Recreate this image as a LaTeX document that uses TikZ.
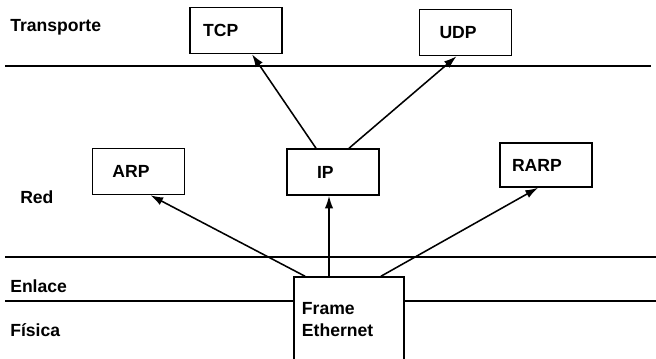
\documentclass[tikz,border=0pt]{standalone}
\usepackage{fontspec}
\setmainfont{Liberation Sans}
\usetikzlibrary{arrows.meta}

\tikzset{
  caja/.style={draw, line width=1.1pt, minimum height=1.15cm, inner xsep=#1,
    text width=2.3cm-2*#1, align=left},
  caja/.default=0.35cm,
  capa/.style={anchor=west, inner sep=0pt},
  flecha/.style={line width=1.1pt, -{Latex[length=9pt,width=6pt]}},
  nivel/.style={line width=1.1pt}
}

\begin{document}
\begin{tikzpicture}[x=0.025cm, y=-0.025cm, font=\fontsize{12.5}{15}\selectfont\bfseries]
        \clip (0,0) rectangle (656,358);

        % niveles
        \node[capa] (transporte) at (10,27) {Transporte};
        \node[capa] (red) at (20,197) {Red};
        \node[capa] (enlace) at (10,286) {Enlace};
        \node[capa] (fisica) at (10,330) {Física};

        % protocolos
        \node[caja=0.33cm] (tcp) at (236,30.5) {TCP};
        \node[caja=0.5cm] (udp) at (465.5,32.5) {UDP};
        \node[caja=0.5cm] (arp) at (138.5,171.5) {ARP};
        \node[caja=0.75cm] (ip) at (333,172) {IP};
        \node[caja=0.3cm, minimum height=1.1cm] (rarp) at (546,165) {RARP};
        \node[caja=0.2cm, text width=2.35cm, minimum height=2.125cm] (frame) at (349,319.5) {Frame\\Ethernet};

        % separaciones
        \draw[nivel] (5,66) -- (651,66);
        \draw[nivel] (5,257) -- (656,257);
        \draw[nivel] (5,301) -- (frame.west |- 0,301);
        \draw[nivel] (frame.east |- 0,301) -- (656,301);

        \draw[flecha] ([xshift=-17*0.025cm]ip.north) -- ([xshift=16*0.025cm]tcp.south);
        \draw[flecha] ([xshift=16*0.025cm]ip.north) -- ([xshift=-9*0.025cm]udp.south);
        \draw[flecha] ([xshift=-44*0.025cm]frame.north) -- ([xshift=12*0.025cm]arp.south);
        \draw[flecha] ([xshift=-20*0.025cm]frame.north) -- ([xshift=-4*0.025cm]ip.south);
        \draw[flecha] ([xshift=32*0.025cm]frame.north) -- ([xshift=-8*0.025cm]rarp.south);
\end{tikzpicture}
\end{document}
